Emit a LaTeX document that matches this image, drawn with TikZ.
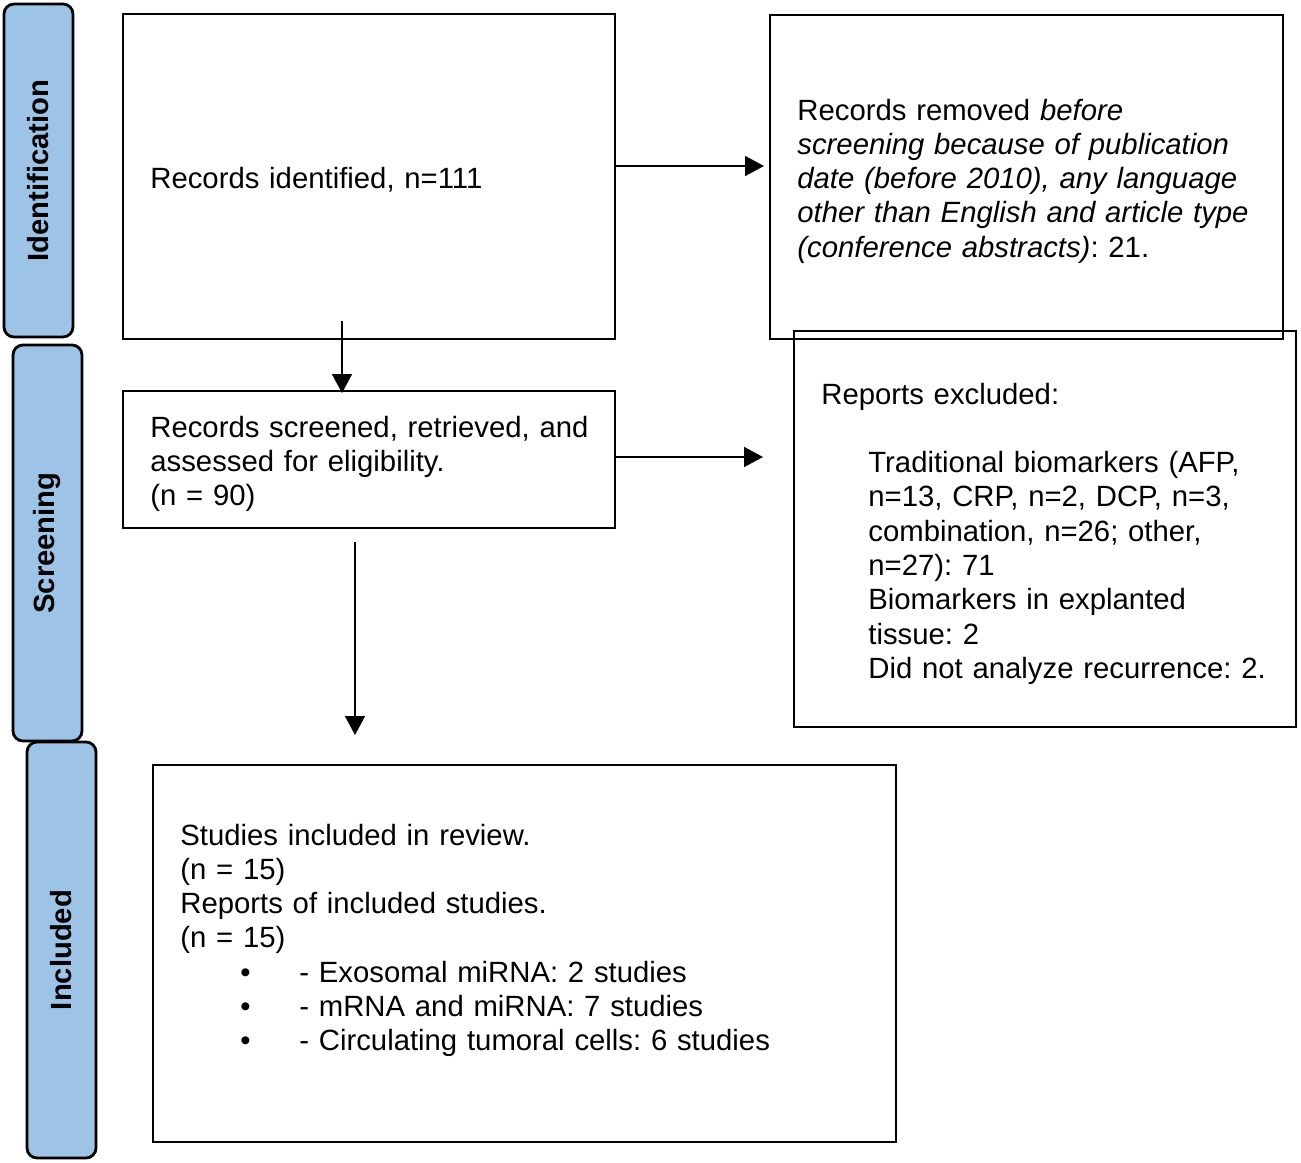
\documentclass[tikz,border=0pt]{standalone}
\usepackage{fontspec}
\setmainfont{Liberation Sans}
\usetikzlibrary{arrows.meta}
\definecolor{phase}{RGB}{157,195,230}
\frenchspacing
\begin{document}
\begin{tikzpicture}[x=0.5pt,y=-0.5pt,
  phasebox/.style={draw=black,line width=1.4pt,fill=phase,rounded corners=5pt,
    inner sep=0pt,rotate=90,minimum height=34.5pt,font=\fontsize{14.6}{17}\selectfont\bfseries},
  flowbox/.style={draw=black,line width=1.4pt,inner sep=0pt,rectangle},
  flowtext/.style={anchor=base west,inner sep=0pt,text width=300pt,align=left,
    font=\fontsize{14.65}{17.15}\selectfont},
  arr/.style={line width=0.8pt,-{Triangle[length=9.5pt,width=10pt]}}]
\useasboundingbox (0,0) rectangle (1301,1162);
% phase labels
\node[phasebox,minimum width=166.5pt] (pid) at (38.5,170.5) {Identification};
\node[phasebox,minimum width=198pt] (pscr) at (47.5,543) {Screening};
\node[phasebox,minimum width=208pt] (pinc) at (61.5,950) {Included};
% boxes
\node[flowbox,minimum width=246pt,minimum height=162.5pt] (b1) at (369,176.5) {};
\node[flowbox,minimum width=256.5pt,minimum height=162pt] (b2) at (1026.5,177) {};
\node[flowbox,minimum width=246pt,minimum height=68.5pt] (b3) at (369,459.5) {};
\node[flowbox,minimum width=251pt,minimum height=198pt] (b4) at (1045,529) {};
\node[flowbox,minimum width=371.5pt,minimum height=188.5pt] (b5) at (524.5,953.5) {};
% texts
\node[flowtext] (t1) at (150,188) {Records identified, n=111};
\node[flowtext] (t2) at (797,120) {Records removed \textit{before}\\
\textit{screening because of publication}\\
\textit{date (before 2010), any language}\\
\textit{other than English and article type}\\
\textit{(conference abstracts)}: 21.};
\node[flowtext] (t3) at (150,437) {Records screened, retrieved, and\\
assessed for eligibility.\\
(n = 90)};
\node[flowtext] (t4) at (821,404) {Reports excluded:\\[17.15pt]
\hspace*{23.5pt}Traditional biomarkers (AFP,\\
\hspace*{23.5pt}n=13, CRP, n=2, DCP, n=3,\\
\hspace*{23.5pt}combination, n=26; other,\\
\hspace*{23.5pt}n=27): 71\\
\hspace*{23.5pt}Biomarkers in explanted\\
\hspace*{23.5pt}tissue: 2\\
\hspace*{23.5pt}Did not analyze recurrence: 2.};
\node[flowtext] (t5) at (180,845) {Studies included in review.\\
(n = 15)\\
Reports of included studies.\\
(n = 15)\\
\hspace*{30pt}\makebox[29.5pt][l]{•}- Exosomal miRNA: 2 studies\\
\hspace*{30pt}\makebox[29.5pt][l]{•}- mRNA and miRNA: 7 studies\\
\hspace*{30pt}\makebox[29.5pt][l]{•}- Circulating tumoral cells: 6 studies};
% connector ends
\coordinate (a1e) at (764,166);
\coordinate (a2s) at (342,321);
\coordinate (a2e) at (342,393);
\coordinate (a3e) at (763,457);
\coordinate (a4s) at (355,542);
\coordinate (a4e) at (355,735);
% connectors
\draw[arr] (b1.east |- a1e) -- (a1e);
\draw[arr] (a2s) -- (a2e);
\draw[arr] (b3.east |- a3e) -- (a3e);
\draw[arr] (a4s) -- (a4e);
\end{tikzpicture}
\end{document}
